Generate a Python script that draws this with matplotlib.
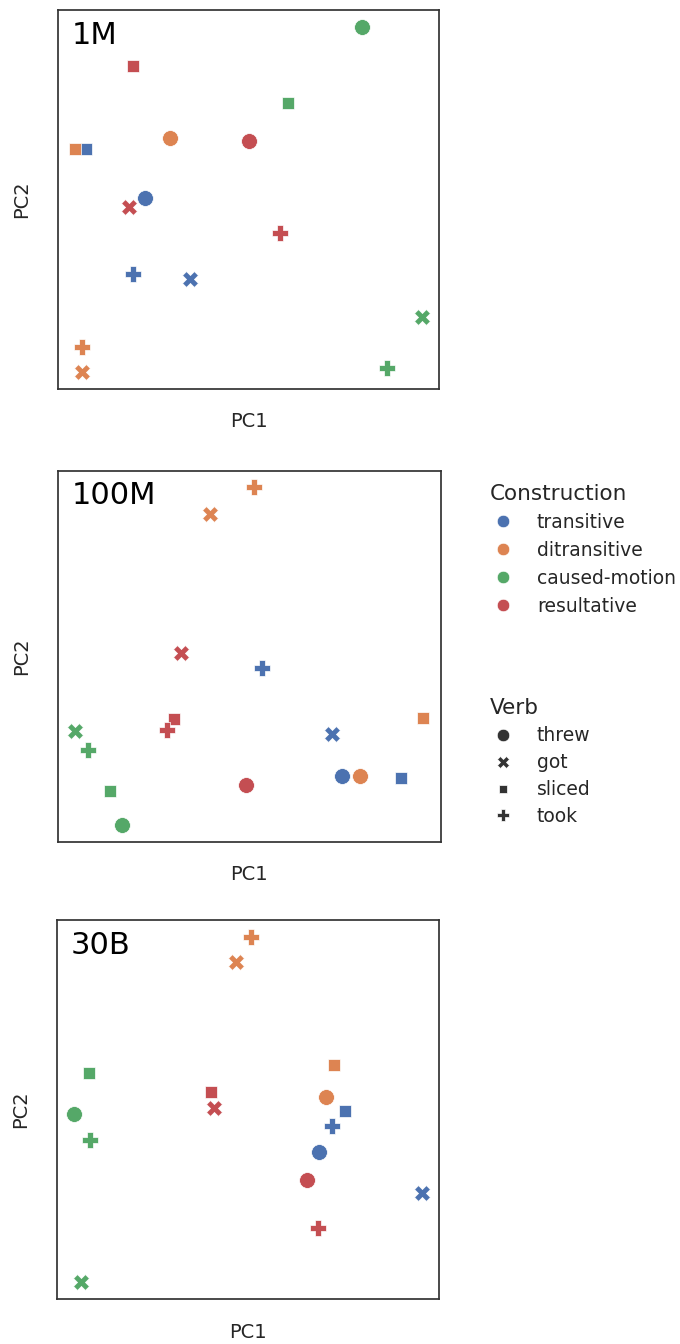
import matplotlib
matplotlib.use("Agg")
import matplotlib.pyplot as plt
from matplotlib.lines import Line2D
import seaborn as sns

sns.set_style("white")
plt.rcParams['font.family'] = ['DejaVu Sans']

# categories
constructions = ['transitive', 'ditransitive', 'caused-motion', 'resultative']
verbs = ['threw', 'got', 'sliced', 'took']
model_sizes = ['1M', '100M', '30B']

# PCA coordinates, ordered construction by construction, verbs threw/got/sliced/took
pc1_1m = [0.229, 0.347, 0.074, 0.197,
          0.294, 0.063, 0.045, 0.064,
          0.797, 0.954, 0.604, 0.862,
          0.500, 0.186, 0.197, 0.581]
pc2_1m = [0.504, 0.289, 0.634, 0.302,
          0.663, 0.044, 0.634, 0.110,
          0.956, 0.188, 0.756, 0.054,
          0.654, 0.479, 0.852, 0.411]

pc1_100m = [0.742, 0.714, 0.894, 0.533,
            0.787, 0.399, 0.952, 0.512,
            0.171, 0.048, 0.138, 0.082,
            0.491, 0.322, 0.304, 0.286]
pc2_100m = [0.175, 0.290, 0.169, 0.467,
            0.175, 0.883, 0.332, 0.954,
            0.044, 0.296, 0.136, 0.247,
            0.152, 0.508, 0.330, 0.299]

pc1_30b = [0.685, 0.950, 0.750, 0.717,
           0.702, 0.469, 0.724, 0.508,
           0.052, 0.069, 0.091, 0.092,
           0.654, 0.414, 0.404, 0.682]
pc2_30b = [0.387, 0.280, 0.495, 0.456,
           0.530, 0.883, 0.615, 0.949,
           0.485, 0.047, 0.594, 0.418,
           0.314, 0.501, 0.543, 0.188]

colors = sns.color_palette("deep", 4)
markers = ['o', 'X', (4, 0, 45), 'P']

W, H = 680, 1344
fig = plt.figure(figsize=(W / 100, H / 100), dpi=100)

# axes rectangles in pixels: left, top, width, height
rects = [(57.7, 10.0, 381.6, 378.8),
         (57.7, 470.5, 383.0, 371.2),
         (57.0, 920.0, 382.3, 379.0)]
panels = [(pc1_1m, pc2_1m), (pc1_100m, pc2_100m), (pc1_30b, pc2_30b)]

for (l, t, w, h), (xs, ys), name in zip(rects, panels, model_sizes):
    ax = fig.add_axes([l / W, 1 - (t + h) / H, w / W, h / H])
    for ci, c in enumerate(constructions):
        for vi, v in enumerate(verbs):
            k = ci * len(verbs) + vi
            ax.scatter(xs[k], ys[k], s=130, color=colors[ci], marker=markers[vi],
                       edgecolor='white', linewidth=0.5, zorder=3)
    ax.set_xticks([])
    ax.set_yticks([])
    ax.set_xlabel('PC1', fontsize=14, labelpad=17, color='.15')
    ax.set_ylabel('PC2', fontsize=14, labelpad=19, color='.15')
    ax.text(0.036, 0.972, name, transform=ax.transAxes, fontsize=22,
            ha='left', va='top', color='black')
    for sp in ax.spines.values():
        sp.set_color('.2')
        sp.set_linewidth(1.25)

# legends
hue_handles = [Line2D([], [], linestyle='none', marker='o', markersize=9,
                      markerfacecolor=colors[i], markeredgecolor='white',
                      markeredgewidth=0.5) for i in range(len(constructions))]
style_handles = [Line2D([], [], linestyle='none', marker=markers[i], markersize=9,
                        markerfacecolor='.2', markeredgecolor='white',
                        markeredgewidth=0.5) for i in range(len(verbs))]

leg_kw = dict(loc='upper left', frameon=False, fontsize=13.5, title_fontsize=15.5,
              alignment='left', borderpad=0, borderaxespad=0, handlelength=1.35,
              handletextpad=1.15)
leg1 = fig.legend(hue_handles, constructions, title='Construction', labelspacing=0.48,
                  bbox_to_anchor=(490 / W, 1 - 484 / H), **leg_kw)
leg2 = fig.legend(style_handles, verbs, title='Verb', labelspacing=0.42,
                  bbox_to_anchor=(490 / W, 1 - 698.5 / H), **leg_kw)
for leg in (leg1, leg2):
    for txt in leg.get_texts():
        txt.set_color('.15')

fig.savefig('out.png', dpi=100)
